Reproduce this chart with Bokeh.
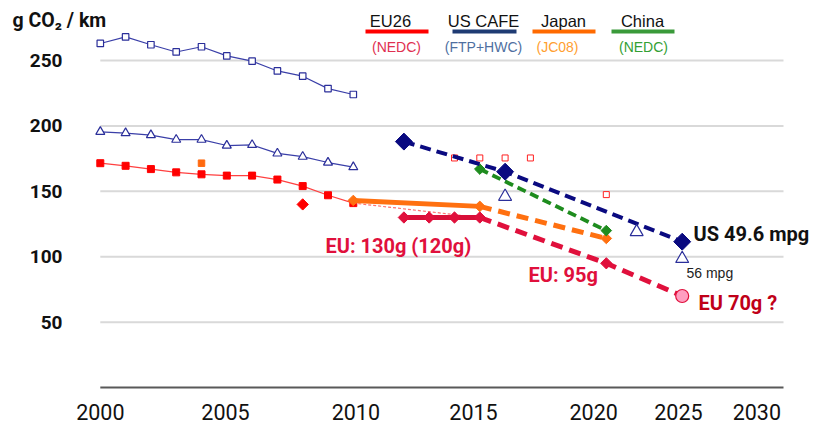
import numpy as np
from bokeh.plotting import figure
from bokeh.models import Range1d, Label
from bokeh.embed import file_html
from bokeh.resources import INLINE
from bokeh.core.properties import value

# ---------------- data ----------------
hist_years = [2000, 2001, 2002, 2003, 2004, 2005, 2006, 2007, 2008, 2009, 2010]
us_fleet_sq = [263, 268, 262, 256.5, 260.5, 253.5, 249.5, 242, 238, 228.5, 224]
us_fleet_tri = [195.5, 194.5, 193, 189.5, 189.5, 185, 185.5, 179, 176.5, 172, 168.5]
eu_fleet = [171.5, 169.5, 167, 164.5, 163, 162, 162, 159, 154, 147, 141]

japan_pt_year = [2004]
japan_pt_val = [171.5]
eu_pt_year = [2008]
eu_pt_val = [140]

eu_link_years = [2010, 2015]
eu_link_vals = [141, 130]

eu_130_years = [2012, 2013, 2014, 2015]
eu_130_vals = [130, 130, 130, 130]
eu_future_years = [2015, 2020]
eu_future_vals = [130, 95]
eu_2025_year = [2025]
eu_2025_val = [70]

us_target_years = [2012, 2016, 2025]
us_target_vals = [188, 165, 111.5]

japan_years = [2010, 2015]
japan_vals = [143, 138.5]
japan_future_years = [2015, 2020]
japan_future_vals = [138.5, 114]

china_years = [2015, 2020]
china_vals = [167, 120]

us_tri_years = [2016, 2022, 2025]
us_tri_vals = [146, 119, 98.5]

red_open_years = [2014, 2015, 2016, 2017, 2020]
red_open_vals = [175.5, 175.5, 175.5, 175.5, 147.5]

y_ticks = [50, 100, 150, 200, 250]
x_tick_labels = ["2000", "2005", "2010", "2015", "2020", "2025", "2030"]


# --------------- axis layout (the original's time axis is compressed after 2020) ---------------
def pos(years):
    y = np.asarray(years, dtype=float)
    return np.where(y <= 2020, y, 2020 + 0.6 * (y - 2020))


x_tick_pos = [2000.0, 2004.95, 2010.1, 2014.75, 2019.5, 2022.85, 2025.95]


def X(px):  # picture pixel -> data x (layout of annotations only)
    return 2000 + (px - 99.8) / 25.3


def Y(py):  # picture pixel -> data y (layout of annotations only)
    return (387.1 - py) / 1.3085


SANS = "Liberation Sans"
BOLD = "Roboto"

p = figure(width=816, height=428, output_backend="svg", toolbar_location=None,
           x_range=Range1d(X(0), X(816)), y_range=Range1d(Y(428), Y(0)),
           x_axis_location=None, y_axis_location=None,
           min_border_left=0, min_border_right=0, min_border_top=0, min_border_bottom=0)
p.outline_line_color = None
p.xgrid.grid_line_color = None
p.ygrid.grid_line_color = None

# gridlines, base line and tick labels
grid_x0, grid_x1 = 2000, X(783)
p.segment(x0=[grid_x0] * len(y_ticks), x1=[grid_x1] * len(y_ticks), y0=y_ticks, y1=y_ticks,
          line_color="#D9D9D9", line_width=2)
p.segment(x0=[grid_x0], x1=[grid_x1], y0=[0], y1=[0], line_color="#595959", line_width=2)

p.text(x=[X(62)] * len(y_ticks), y=y_ticks, text=[str(t) for t in y_ticks],
       text_font=value(BOLD), text_font_style="bold", text_font_size="19px",
       text_color="#111111", text_align="right", text_baseline="middle")
p.text(x=x_tick_pos, y=[Y(411)] * len(x_tick_pos), text=x_tick_labels,
       text_font=value(BOLD), text_font_size="21.5px", text_color="#111111",
       text_align="center", text_baseline="middle")

# ---- historical fleet data ----
hx = pos(hist_years)
p.line(hx, us_fleet_sq, line_color="#3A3FA8", line_width=1.2)
p.scatter(hx, us_fleet_sq, marker="square", size=6.5, fill_color="white",
          line_color="#2B2F9A", line_width=1.2)
p.line(hx, us_fleet_tri, line_color="#3A3FA8", line_width=1.2)
p.scatter(hx, us_fleet_tri, marker="triangle", size=9, fill_color="white",
          line_color="#2B2F9A", line_width=1.2)
p.line(hx, eu_fleet, line_color="#FF4040", line_width=1.2)
p.scatter(hx, eu_fleet, marker="square", size=7, fill_color="#FF0000", line_color="#FF0000")

p.scatter(pos(japan_pt_year), japan_pt_val, marker="square", size=6.5,
          fill_color="#FF6A10", line_color="#FF6A10")
p.scatter(pos(eu_pt_year), eu_pt_val, marker="square", angle=np.pi / 4, size=8,
          fill_color="#FF0000", line_color="#FF0000")

p.scatter(pos(red_open_years), red_open_vals, marker="square", size=6, fill_color="white",
          line_color="#FF2020", line_width=1)

# thin dashed EU link
p.line(pos(eu_link_years), eu_link_vals, line_color="#FF7070", line_width=1.2, line_dash="3 2")

# ---- Japan ----
p.line(pos(japan_years), japan_vals, line_color="#FF7010", line_width=5)
p.line(pos(japan_future_years), japan_future_vals, line_color="#FF7010", line_width=5,
       line_dash="12 7")
p.scatter(pos(japan_years + japan_future_years[1:]), japan_vals + japan_future_vals[1:],
          marker="square", angle=np.pi / 4, size=7.5, fill_color="#FF7010", line_color="#FF7010")

# ---- EU targets ----
p.line(pos(eu_future_years + eu_2025_year), eu_future_vals + eu_2025_val, line_color="#E0103C",
       line_width=5, line_dash="12 7")
p.line(pos(eu_130_years), eu_130_vals, line_color="#D80F38", line_width=5)
p.scatter(pos(eu_130_years + eu_future_years[1:]), eu_130_vals + eu_future_vals[1:],
          marker="square", angle=np.pi / 4, size=8, fill_color="#E0103C", line_color="#E0103C")
p.scatter(pos(eu_2025_year), eu_2025_val, marker="circle", size=13, fill_color="#FF9EC0",
          line_color="#E0103C", line_width=1.2)

# ---- China ----
p.line(pos(china_years), china_vals, line_color="#1E8C1E", line_width=3.8, line_dash="9 5")
p.scatter(pos(china_years), china_vals, marker="square", angle=np.pi / 4, size=7.5,
          fill_color="#1E8C1E", line_color="#1E8C1E")

# ---- US ----
p.line(pos(us_target_years), us_target_vals, line_color="#0A0A80", line_width=4,
       line_dash="11 6")
p.scatter(pos(us_target_years), us_target_vals, marker="square", angle=np.pi / 4, size=12,
          fill_color="#0A0A80", line_color="#0A0A80")
p.scatter(pos(us_tri_years), us_tri_vals, marker="triangle", size=13, fill_color="white",
          line_color="#2B2F9A", line_width=1.2)


# ---- texts ----
def label(px, py, text, size, color, bold=False, font=SANS, align="center"):
    p.add_layout(Label(x=X(px), y=Y(py), text=text, text_font=font, text_font_size=size,
                       text_color=color, text_font_style="bold" if bold else "normal",
                       text_align=align, text_baseline="middle"))


label(12, 20, "g CO\u2082 / km", "19.5px", "#111111", bold=True, font=BOLD, align="left")

legend = [
    ("EU26", "(NEDC)", 390, 396, 365, 428, "#FF0000", "#E03050"),
    ("US CAFE", "(FTP+HWC)", 483, 483, 452, 516, "#1F3B73", "#4F6F9F"),
    ("Japan", "(JC08)", 563, 557, 532, 595, "#FF6A00", "#FFA030"),
    ("China", "(NEDC)", 642, 643, 611, 674, "#3A9A3A", "#33A033"),
]
for name, sub, cx, sx, lx0, lx1, lc, sc in legend:
    label(cx, 20, name, "16.5px", "#111111")
    label(sx, 46, sub, "14px", sc)
    p.segment(x0=[X(lx0)], x1=[X(lx1)], y0=[Y(31)], y1=[Y(31)], line_color=lc, line_width=4)

label(325, 245, "EU: 130g (120g)", "20px", "#E0103C", bold=True, font=BOLD, align="left")
label(528, 274, "EU: 95g", "20px", "#E0103C", bold=True, font=BOLD, align="left")
label(698, 302, "EU 70g ?", "20px", "#C00018", bold=True, font=BOLD, align="left")
label(693, 233, "US 49.6 mpg", "20px", "#111111", bold=True, font=BOLD, align="left")
label(686, 272, "56 mpg", "14px", "#222222", align="left")

open("out.html", "w").write(file_html(p, INLINE))
